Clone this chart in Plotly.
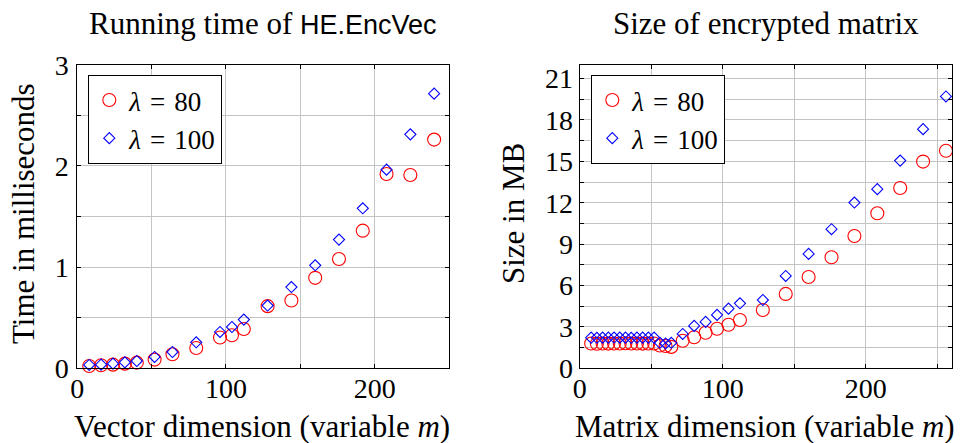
import plotly.graph_objects as go

# ---------------- data ----------------
vec_dim = [8, 16, 24, 32, 40, 52, 64, 80, 96, 104, 112, 128, 144, 160, 176, 192, 208, 224, 240]
time_l80 = [0.023, 0.030, 0.036, 0.046, 0.056, 0.086, 0.139, 0.200, 0.304, 0.327, 0.389,
            0.614, 0.670, 0.894, 1.080, 1.360, 1.920, 1.910, 2.260]
time_l100 = [0.033, 0.036, 0.046, 0.059, 0.072, 0.112, 0.161, 0.257, 0.359, 0.408, 0.481,
             0.620, 0.803, 1.018, 1.272, 1.581, 1.963, 2.312, 2.714]

mat_dim = [8, 12, 16, 20, 24, 28, 32, 36, 40, 44, 48, 52, 56, 60, 64,
           72, 80, 88, 96, 104, 112, 128, 144, 160, 176, 192, 208, 224, 240, 256]
size_l80 = [1.80, 1.78, 1.80, 1.79, 1.80, 1.80, 1.81, 1.80, 1.80, 1.79, 1.80, 1.80, 1.65, 1.62, 1.55,
            2.00, 2.25, 2.58, 2.87, 3.16, 3.50, 4.23, 5.39, 6.62, 8.05, 9.59, 11.24, 13.07, 14.98, 15.76]
size_l100 = [2.22, 2.21, 2.22, 2.22, 2.23, 2.22, 2.22, 2.21, 2.22, 2.22, 2.22, 2.22, 1.85, 1.80, 1.85,
             2.49, 3.07, 3.36, 3.87, 4.32, 4.71, 4.95, 6.69, 8.29, 10.08, 12.01, 12.98, 15.05, 17.33, 19.70]

x_tickvals = [0, 50, 100, 150, 200, 250]
x_ticktext = ["0", "", "100", "", "200", ""]
time_tickvals = [0, 0.5, 1, 1.5, 2, 2.5, 3]
time_ticktext = ["0", "", "1", "", "2", "", "3"]
size_tickvals = [0, 1.5, 3, 4.5, 6, 7.5, 9, 10.5, 12, 13.5, 15, 16.5, 18, 19.5, 21]
size_ticktext = ["0", "", "3", "", "6", "", "9", "", "12", "", "15", "", "18", "", "21"]

label80 = "<i>λ</i>\u2004=\u200480"
label100 = "<i>λ</i>\u2004=\u2004100"

# ---------------- style ----------------
SERIF = "Liberation Serif, DejaVu Serif, serif"
FS = 31
TFS = 28
LFS = 27
W, H = 961, 443
RED = "#ff0000"
BLUE = "#0000ff"

circle = dict(symbol="circle-open", size=13, color=RED, line=dict(color=RED, width=1.1))
diamond = dict(symbol="diamond-open", size=8.5, color=BLUE, line=dict(color=BLUE, width=1.1))

fig = go.Figure()
fig.add_trace(go.Scatter(x=vec_dim, y=time_l80, mode="markers", marker=circle, name=label80,
                         xaxis="x", yaxis="y", legend="legend", cliponaxis=False))
fig.add_trace(go.Scatter(x=vec_dim, y=time_l100, mode="markers", marker=diamond, name=label100,
                         xaxis="x", yaxis="y", legend="legend", cliponaxis=False))
fig.add_trace(go.Scatter(x=mat_dim, y=size_l80, mode="markers", marker=circle, name=label80,
                         xaxis="x2", yaxis="y2", legend="legend2", cliponaxis=False))
fig.add_trace(go.Scatter(x=mat_dim, y=size_l100, mode="markers", marker=diamond, name=label100,
                         xaxis="x2", yaxis="y2", legend="legend2", cliponaxis=False))

y_dom = [1 - 368.3 / H, 1 - 64.7 / H]
axis_common = dict(showline=True, linecolor="black", linewidth=1, mirror="ticks",
                   ticks="inside", ticklen=4, tickcolor="black", tickwidth=1,
                   showgrid=True, gridcolor="#c4c4c4", gridwidth=1, zeroline=False,
                   automargin=False,
                   tickfont=dict(family=SERIF, size=TFS, color="black"), tickmode="array")

legend_common = dict(xanchor="left", yanchor="top", bordercolor="black", borderwidth=1,
                     bgcolor="white", font=dict(family=SERIF, size=LFS, color="black"),
                     tracegroupgap=0, itemwidth=30)

fig.update_layout(
    width=W, height=H, margin=dict(l=0, r=0, t=0, b=0, autoexpand=False),
    paper_bgcolor="white", plot_bgcolor="white",
    font=dict(family=SERIF, size=FS, color="black"),
    xaxis=dict(domain=[77.3 / W, 449 / W], range=[0, 250], anchor="y",
               tickvals=x_tickvals, ticktext=x_ticktext, ticklabelstandoff=-5, **axis_common),
    yaxis=dict(domain=y_dom, range=[0, 3], anchor="x",
               tickvals=time_tickvals, ticktext=time_ticktext, ticklabelstandoff=2, **axis_common),
    xaxis2=dict(domain=[579.7 / W, 951.7 / W], range=[0, 260], anchor="y2",
                tickvals=x_tickvals, ticktext=x_ticktext, ticklabelstandoff=-5, **axis_common),
    yaxis2=dict(domain=y_dom, range=[0, 22], anchor="x2",
                tickvals=size_tickvals, ticktext=size_ticktext, ticklabelstandoff=0, **axis_common),
    legend=dict(x=88.3 / W, y=1 - 75 / H, **legend_common),
    legend2=dict(x=591.3 / W, y=1 - 75 / H, **legend_common),
    showlegend=True,
)

def ann(text, x, y, angle=0):
    fig.add_annotation(text=text, x=x / W, y=1 - y / H, xref="paper", yref="paper",
                       xanchor="center", yanchor="middle", showarrow=False, textangle=angle,
                       font=dict(family=SERIF, size=FS, color="black"))

ann("Running time of <span style=\"font-family:'Liberation Sans';font-size:27px\">HE.EncVec</span>", 263, 24)
ann("Size of encrypted matrix", 765.7, 24)
ann("Vector dimension (variable <i>m</i>)", 262, 426)
ann("Matrix dimension (variable <i>m</i>)", 765, 426)
ann("Time in milliseconds", 24, 214, -90)
ann("Size in MB", 514, 214, -90)

fig.write_html("out.html", config={"displayModeBar": False},
               post_script="document.body.style.margin='0';document.body.style.overflow='hidden';")
